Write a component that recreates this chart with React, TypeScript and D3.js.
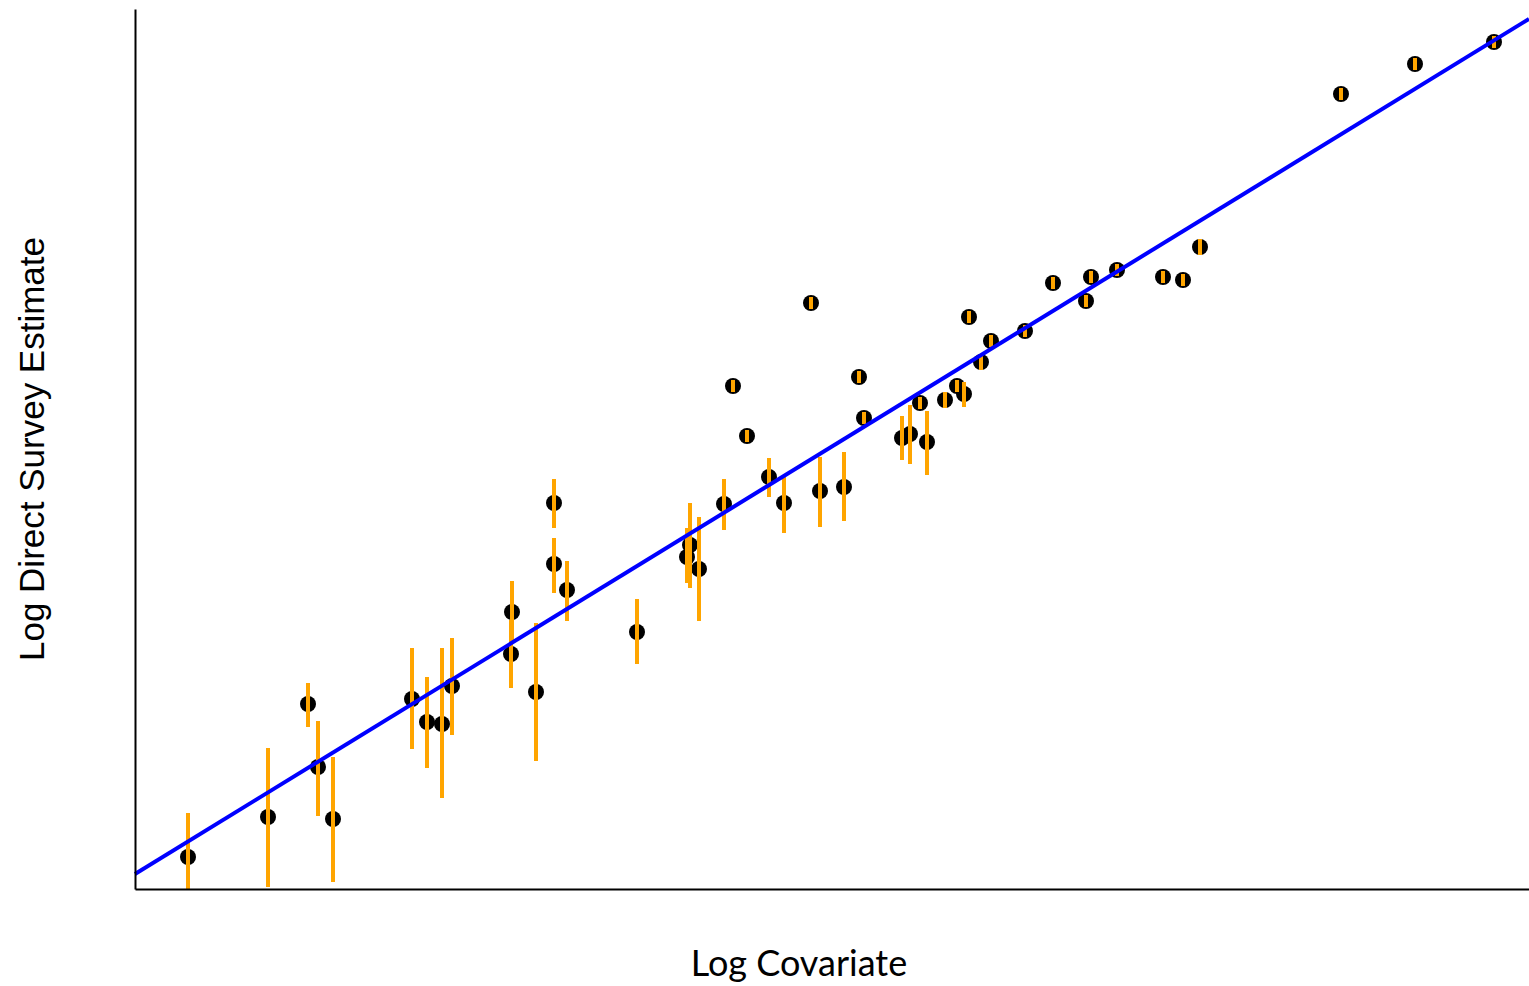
import React, { useEffect, useRef } from "react";
import * as d3 from "d3";

const width = 1529;
const height = 986;
const margin = { top: 9, right: 0, bottom: 97, left: 135 };

// log covariate (x), log direct estimate (y), error bar lo / hi
const xs = [
  0.53, 1.33, 1.73, 1.83, 1.98, 2.77, 2.92, 3.07, 3.17, 3.77, 3.76, 4.01,
  4.19, 4.19, 4.32, 5.02, 5.55, 5.52, 5.64, 5.89, 5.98, 6.12, 6.76, 7.24,
  7.29, 6.34, 6.49, 6.85, 7.09, 7.67, 7.75, 7.92, 7.85, 8.1, 8.22, 8.29,
  8.34, 8.46, 8.56, 8.9, 9.18, 9.51, 9.56, 9.82, 10.28, 10.48, 10.65, 12.06,
  12.8, 13.59,
];
const ys = [
  0.32, 0.72, 1.85, 1.22, 0.7, 1.9, 1.67, 1.65, 2.03, 2.77, 2.35, 1.97,
  3.86, 3.25, 2.99, 2.57, 3.44, 3.32, 3.2, 3.85, 5.03, 4.53, 5.86, 5.12,
  4.71, 4.12, 3.86, 3.98, 4.02, 4.51, 4.55, 4.47, 4.86, 4.89, 5.03, 4.95,
  5.72, 5.27, 5.48, 5.58, 6.06, 5.88, 6.12, 6.19, 6.12, 6.09, 6.42, 7.95,
  8.25, 8.47,
];
const los = [
  0.0, 0.02, 1.62, 0.73, 0.07, 1.4, 1.21, 0.91, 1.54, 2.47, 2.01, 1.28,
  3.61, 2.96, 2.68, 2.25, 3.01, 3.06, 2.68, 3.59, 4.97, 4.47, 5.8, 5.06,
  4.65, 3.92, 3.56, 3.62, 3.68, 4.29, 4.25, 4.14, 4.8, 4.81, 4.97, 4.82,
  5.66, 5.19, 5.42, 5.52, 6.0, 5.82, 6.06, 6.13, 6.06, 6.03, 6.34, 7.89,
  8.19, 8.41,
];
const his = [
  0.76, 1.41, 2.06, 1.68, 1.32, 2.41, 2.12, 2.41, 2.51, 3.08, 2.69, 2.66,
  4.1, 3.51, 3.28, 2.9, 3.86, 3.61, 3.72, 4.1, 5.09, 4.59, 5.92, 5.18,
  4.77, 4.31, 4.12, 4.32, 4.37, 4.73, 4.84, 4.78, 4.92, 4.97, 5.09, 5.07,
  5.78, 5.35, 5.54, 5.64, 6.12, 5.94, 6.18, 6.25, 6.18, 6.15, 6.5, 8.01,
  8.31, 8.53,
];

// fitted line y = a + b x
const intercept = 0.15;
const slope = 0.6134;

export default function App() {
  const xAxisRef = useRef<SVGGElement>(null);
  const yAxisRef = useRef<SVGGElement>(null);

  const x = d3
    .scaleLinear()
    .domain([0, 13.94])
    .range([margin.left, width - margin.right]);
  const y = d3
    .scaleLinear()
    .domain([0, 8.8])
    .range([height - margin.bottom, margin.top]);

  const points = xs.map((v, i) => ({ x: v, y: ys[i], lo: los[i], hi: his[i] }));

  const line = d3
    .line<number>()
    .x((d) => x(d))
    .y((d) => y(intercept + slope * d));

  useEffect(() => {
    d3.select(xAxisRef.current)
      .call(d3.axisBottom(x).tickValues([]).tickSizeOuter(0))
      .select(".domain")
      .attr("stroke-width", 2);
    d3.select(yAxisRef.current)
      .call(d3.axisLeft(y).tickValues([]).tickSizeOuter(0))
      .select(".domain")
      .attr("stroke-width", 2);
  }, []);

  return (
    <svg
      width={width}
      height={height}
      style={{ position: "absolute", left: 0, top: 0, background: "#fff" }}
    >
      {points.map((d, i) => (
        <circle key={"c" + i} cx={x(d.x)} cy={y(d.y)} r={8} fill="#000" />
      ))}
      {points.map((d, i) => (
        <line
          key={"e" + i}
          x1={x(d.x)}
          x2={x(d.x)}
          y1={y(d.lo)}
          y2={y(d.hi)}
          stroke="#FFA500"
          strokeWidth={4}
        />
      ))}
      <path d={line([0, 13.94]) || ""} fill="none" stroke="#0000FF" strokeWidth={4} />
      <g ref={xAxisRef} transform={"translate(0," + (height - margin.bottom) + ")"}></g>
      <g ref={yAxisRef} transform={"translate(" + margin.left + ",0)"}></g>
      <text
        x={799}
        y={976}
        textAnchor="middle"
        fontFamily="Lato, sans-serif"
        fontSize={36}
        fill="#000"
      >
        Log Covariate
      </text>
      <text
        transform="translate(44,449) rotate(-90)"
        textAnchor="middle"
        fontFamily="'Liberation Sans', Arial, sans-serif"
        fontSize={35}
        fill="#000"
      >
        Log Direct Survey Estimate
      </text>
    </svg>
  );
}
